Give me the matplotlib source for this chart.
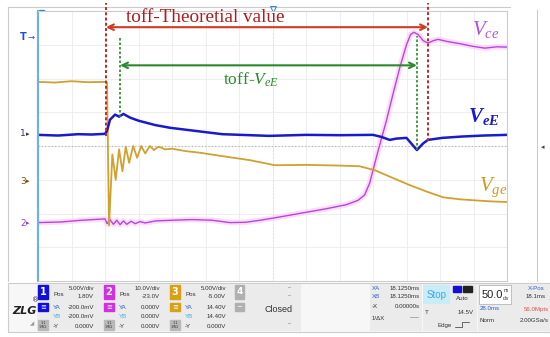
import matplotlib.pyplot as plt
from matplotlib.patches import Rectangle

plt.rcParams['mathtext.fontset'] = 'custom'
plt.rcParams['mathtext.it'] = 'Liberation Serif:italic'
plt.rcParams['mathtext.rm'] = 'Liberation Serif'
plt.rcParams['mathtext.bf'] = 'Liberation Serif:bold:italic'

# x in divisions (50 ns/div), y in divisions from screen centre
vge_t = [0, 0.5, 1.0, 1.5, 2.0, 2.06, 2.12, 2.22, 2.32, 2.42, 2.52, 2.62, 2.72, 2.84, 2.96, 3.08,
         3.2, 3.34, 3.46, 3.6, 3.8, 4.0, 4.4, 4.84, 5.5, 6.33, 7.07, 8.0, 9.0, 9.6, 10.06, 10.6,
         11.1, 11.6, 12.09, 12.6, 13.04, 13.5, 14.0]
vge_v = [1.90, 1.88, 1.92, 1.89, 1.90, 1.88, -2.36, -0.25, -1.0, -0.1, -0.75, -0.02, -0.5, 0.0,
         -0.35, 0.0, -0.22, 0.0, -0.12, -0.02, -0.10, -0.08, -0.15, -0.20, -0.30, -0.42, -0.57,
         -0.56, -0.58, -0.60, -0.72, -0.95, -1.16, -1.35, -1.52, -1.58, -1.61, -1.64, -1.66]

vee_t = [0, 0.6, 1.2, 1.6, 2.0, 2.06, 2.15, 2.3, 2.42, 2.55, 2.75, 3.0, 3.5, 3.94, 4.84, 5.5,
         6.9, 8.0, 9.0, 10.0, 10.25, 10.5, 10.7, 11.0, 11.31, 11.5, 11.64, 12.06, 12.65, 13.3, 14.0]
vee_v = [0.33, 0.31, 0.35, 0.34, 0.36, 0.45, 0.78, 0.93, 0.87, 0.95, 0.84, 0.75, 0.62, 0.54,
         0.43, 0.35, 0.30, 0.33, 0.32, 0.33, 0.27, 0.18, 0.22, 0.24, -0.12, 0.08, 0.18, 0.24,
         0.28, 0.31, 0.33]

vce_t = [0, 0.7, 1.3, 2.0, 2.06, 2.15, 2.25, 2.35, 2.45, 2.55, 2.65, 2.78, 2.9, 3.05, 3.2, 3.5,
         4.0, 4.6, 5.2, 5.73, 6.2, 6.63, 7.0, 7.8, 8.6, 9.2, 9.55, 9.75, 9.9, 10.0, 10.15, 10.4,
         10.6, 10.81, 11.0, 11.12, 11.22, 11.35, 11.5, 11.64, 11.8, 11.94, 12.2, 12.6, 13.0,
         13.34, 13.7, 14.0]
vce_v = [-2.27, -2.25, -2.2, -2.16, -2.3, -2.18, -2.32, -2.2, -2.33, -2.22, -2.32, -2.23, -2.3,
         -2.24, -2.28, -2.22, -2.2, -2.18, -2.2, -2.27, -2.26, -2.2, -2.14, -2.0, -1.86, -1.74,
         -1.61, -1.45, -1.1, -0.72, -0.15, 0.75, 1.55, 2.36, 3.0, 3.3, 3.37, 3.3, 3.12, 3.05,
         3.12, 3.16, 3.1, 3.03, 2.95, 2.9, 2.94, 2.93]

toff_theory = (2.03, 11.64)
toff_vee = (2.45, 11.31)

ch_colors = ['#1010d8', '#d030e0', '#d8a018']
ch_scale = ['5.00V/div', '10.0V/div', '5.00V/div']
ch_pos = ['1.80V', '-23.0V', '-5.00V']
ch_ya = ['-200.0mV', '0.000V', '14.40V']
ch_yb = ['-200.0mV', '0.000V', '14.40V']
ch_dy = ['0.000V', '0.000V', '0.000V']

fig = plt.figure(figsize=(5.5, 3.37), dpi=100)
ov = fig.add_axes([0, 0, 1, 1], zorder=0)
ov.set_xlim(0, 550)
ov.set_ylim(337, 0)
ov.axis('off')

ax = fig.add_axes([38 / 550, 56 / 337, 469 / 550, 270 / 337], zorder=1)
ax.set_xlim(0, 14)
ax.set_ylim(-4, 4)
ax.set_xticks(range(15))
ax.set_yticks(range(-4, 5))
ax.grid(True, color='#ebebeb', lw=0.6)
ax.tick_params(length=0, labelbottom=False, labelleft=False)
for s in ['top', 'right', 'bottom']:
    ax.spines[s].set_color('#cccccc')
    ax.spines[s].set_linewidth(0.8)
ax.spines['left'].set_color('#70b0e8')
ax.spines['left'].set_linewidth(1.6)
ax.axhline(0, color='#b0b0b0', lw=0.8, ls=(0, (1, 2)))
ax.axvline(7, color='#d8d8d8', lw=0.6, ls=(0, (1, 3)))

# traces
ax.plot(vce_t, vce_v, color='#ffccf4', lw=4, alpha=0.7, solid_capstyle='round')
ax.plot(vce_t, vce_v, color='#b048e0', lw=1.0)
ax.plot(vge_t, vge_v, color='#d0a030', lw=1.3)
ax.plot(vee_t, vee_v, color='#1a1acc', lw=1.8)

# toff markers
ax.plot([toff_theory[0]] * 2, [0.3, 4.25], color='#c02828', lw=1.4, ls=(0, (1.5, 1.2)), clip_on=False)
ax.plot([toff_theory[1]] * 2, [0.15, 4.25], color='#c02828', lw=1.4, ls=(0, (1.5, 1.2)), clip_on=False)
ax.plot([toff_vee[0]] * 2, [0.87, 3.25], color='#2a8a2a', lw=1.2, ls=(0, (1.5, 1.2)))
ax.plot([toff_vee[1]] * 2, [-0.12, 3.25], color='#2a8a2a', lw=1.2, ls=(0, (1.5, 1.2)))
ax.annotate('', xy=(toff_theory[0], 3.52), xytext=(toff_theory[1], 3.52),
            arrowprops=dict(arrowstyle='<->', color='#d03a20', lw=1.5, shrinkA=0, shrinkB=0,
                            mutation_scale=10))
ax.annotate('', xy=(toff_vee[0], 2.39), xytext=(toff_vee[1], 2.39),
            arrowprops=dict(arrowstyle='<->', color='#2a8a2a', lw=1.5, shrinkA=0, shrinkB=0,
                            mutation_scale=10))
ax.text(5.0, 3.8, 'toff-Theoretial value', color='#b01c1c', fontsize=13.8,
        family='Liberation Serif', ha='center', va='center')
ax.text(6.36, 1.97, r'toff-$V_{eE}$', color='#2a8a2a', fontsize=12.5,
        family='Liberation Serif', ha='center', va='center')
ax.text(12.95, 3.45, r'$V_{ce}$', color='#b050e0', fontsize=15, va='center')
ax.text(12.85, 0.87, r'$\mathbf{V_{eE}}$', color='#1a1acc', fontsize=15, va='center')
ax.text(13.15, -1.22, r'$V_{ge}$', color='#c89a20', fontsize=15, va='center')

# screen frame and markers
ov.plot([8, 510], [7, 7], color='#cccccc', lw=0.8)
ov.plot([8, 8], [7, 281], color='#cccccc', lw=0.8)
ov.plot([537, 537], [10, 281], color='#cccccc', lw=0.8)
ov.text(541, 147, '◂', fontsize=5, color='#444444', va='center')
ov.text(20, 37, 'T', fontsize=7, color='#2050d0', fontweight='bold', va='center')
ov.text(27, 37, '→', fontsize=6, color='#2050d0', va='center')
for lab, yy, c in [('1', 134, '#303060'), ('3', 181, '#705010'), ('2', 223, '#9040c0')]:
    ov.text(20, yy, lab, fontsize=6.5, color=c, va='center')
    ov.text(26, yy, '▸', fontsize=5, color=c, va='center')
ov.add_patch(Rectangle((39, 10), 5, 8, color='#3080e0'))
ov.plot([273], [9], marker='v', ms=4, mfc='none', mec='#3080e0', mew=0.7)

# bottom panel
fn = 'Liberation Sans'
fs = 4.4
ov.add_patch(Rectangle((8, 283), 542, 49, facecolor='#f7f7f7', edgecolor='#cccccc', lw=0.8))
ov.add_patch(Rectangle((37, 284), 264, 47, facecolor='#ebebeb', edgecolor='none'))
ov.text(12, 311, 'ZLG', fontsize=8, fontweight='bold', style='italic', color='#222222', va='center')
ov.text(32, 300, '®', fontsize=5, color='#222222', va='center')
ov.text(30, 324, '◢', fontsize=4, color='#999999', va='center')
for i in range(3):
    x0 = 38 + 66 * i
    c = ch_colors[i]
    ov.add_patch(Rectangle((x0, 285), 10, 14, color=c))
    ov.text(x0 + 5, 292, str(i + 1), fontsize=7, color='white', fontweight='bold', ha='center', va='center')
    ov.text(x0 + 15, 295, 'Pos', fontsize=fs, family=fn, color='#333333', va='center')
    ov.text(x0 + 56, 288.5, ch_scale[i], fontsize=fs, family=fn, color='#333333', ha='right', va='center')
    ov.text(x0 + 56, 296, ch_pos[i], fontsize=fs, family=fn, color='#333333', ha='right', va='center')
    ov.add_patch(Rectangle((x0, 303), 10, 8, color=c))
    ov.text(x0 + 5, 307, '≡', fontsize=5, color='white', ha='center', va='center')
    ov.text(x0 + 15, 307.5, 'YA', fontsize=fs, family=fn, color='#3060d0', va='center')
    ov.text(x0 + 56, 307.5, ch_ya[i], fontsize=fs, family=fn, color='#333333', ha='right', va='center')
    ov.text(x0 + 15, 316.5, 'YB', fontsize=fs, family=fn, color='#40b0e0', va='center')
    ov.text(x0 + 56, 316.5, ch_yb[i], fontsize=fs, family=fn, color='#333333', ha='right', va='center')
    ov.add_patch(Rectangle((x0, 320), 10, 10, color='#b8b8b8'))
    ov.text(x0 + 5, 325, '1:1\n1MΩ', fontsize=2.5, color='#333333', ha='center', va='center', linespacing=0.9)
    ov.text(x0 + 15, 326, '-Y', fontsize=fs, family=fn, color='#333333', va='center')
    ov.text(x0 + 56, 326, ch_dy[i], fontsize=fs, family=fn, color='#333333', ha='right', va='center')
ov.add_patch(Rectangle((235, 285), 9, 14, color='#b0b0b0'))
ov.text(239.5, 292, '4', fontsize=6.5, color='white', fontweight='bold', ha='center', va='center')
ov.add_patch(Rectangle((235, 303), 9, 8, color='#b0b0b0'))
ov.text(239.5, 307, '−', fontsize=5, color='white', ha='center', va='center')
for yy in [288, 296, 324]:
    ov.text(290, yy, '--', fontsize=fs, family=fn, color='#555555', ha='center', va='center')
ov.text(279, 310, 'Closed', fontsize=6.5, family=fn, color='#333333', ha='center', va='center')

ov.add_patch(Rectangle((370, 284), 52, 47, facecolor='#ebebeb', edgecolor='none'))
for lab, val, yy, c in [('XA', '18.1250ms', 288, '#3060d0'), ('XB', '18.1250ms', 297, '#3060d0'),
                        ('-X', '0.00000s', 307, '#333333'), ('1/ΔX', '-----', 318, '#333333')]:
    ov.text(372, yy, lab, fontsize=fs, family=fn, color=c, va='center')
    ov.text(420, yy, val, fontsize=fs, family=fn, color='#333333', ha='right', va='center')
ov.add_patch(Rectangle((423, 284), 54, 47, facecolor='#ebebeb', edgecolor='none'))
ov.add_patch(Rectangle((423, 285), 27, 19, facecolor='#c8ecf8', edgecolor='none'))
ov.text(436.5, 294.5, 'Stop', fontsize=7, family=fn, color='#40a8e0', ha='center', va='center')
ov.add_patch(Rectangle((453, 286), 8, 6, color='#1010d8'))
ov.add_patch(Rectangle((463, 286), 9, 6, color='#222222'))
ov.text(462, 298, 'Auto', fontsize=fs, family=fn, color='#333333', ha='center', va='center')
ov.text(425, 312, 'T', fontsize=fs, family=fn, color='#333333', va='center')
ov.text(474, 312, '14.5V', fontsize=fs, family=fn, color='#333333', ha='right', va='center')
ov.text(437, 325, 'Edge', fontsize=fs, family=fn, color='#333333', va='center')
ov.plot([455, 462, 462, 469], [327, 327, 322, 322], color='#333333', lw=0.5)
ov.add_patch(Rectangle((478, 284), 72, 47, facecolor='#ebebeb', edgecolor='none'))
ov.add_patch(Rectangle((479, 285), 32, 19, facecolor='white', edgecolor='#aaaaaa', lw=0.5))
ov.text(482, 295, '50.0', fontsize=8, family=fn, color='#222222', va='center')
ov.text(506, 291, 'ns', fontsize=3.5, family=fn, color='#222222', ha='center', va='center')
ov.text(506, 298, 'div', fontsize=3.5, family=fn, color='#222222', ha='center', va='center')
ov.text(536, 288, 'X-Pos', fontsize=fs, family=fn, color='#3060d0', ha='center', va='center')
ov.text(536, 297, '18.1ms', fontsize=fs, family=fn, color='#333333', ha='center', va='center')
ov.text(480, 309, '28.0ms', fontsize=fs, family=fn, color='#3060d0', va='center')
ov.text(549, 309, '56.0Mpts', fontsize=fs, family=fn, color='#e05050', ha='right', va='center')
ov.text(480, 320, 'Norm', fontsize=fs, family=fn, color='#333333', va='center')
ov.text(549, 320, '2.00GSa/s', fontsize=fs, family=fn, color='#333333', ha='right', va='center')

fig.savefig('out.png', dpi=100)
